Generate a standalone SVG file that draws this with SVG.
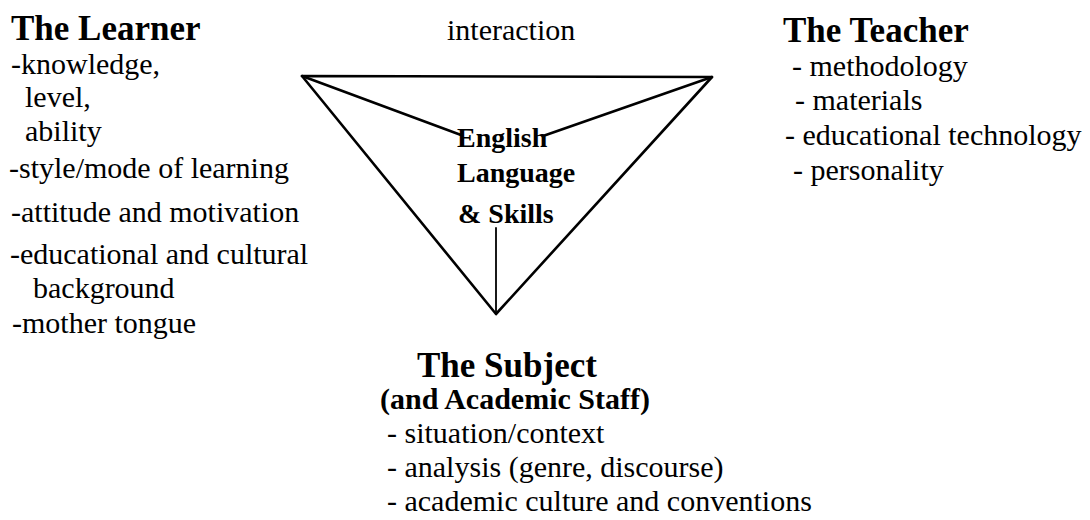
<svg xmlns="http://www.w3.org/2000/svg" width="1090" height="520" viewBox="0 0 1090 520">
<style>
text{font-family:"Liberation Serif","Times New Roman",serif;fill:#000}
.h{font-size:35px;font-weight:bold}
.b{font-size:30px}
.c{font-size:28px;font-weight:bold}
.s{font-size:30px;font-weight:bold}
.ln{stroke:#000;stroke-width:2.6;fill:none;stroke-linecap:round;stroke-linejoin:round}
</style>
<rect width="1090" height="520" fill="#fff"/>
<g id="connectors">
<polygon class="ln" points="302,76 712,77 496,314"/>
<line class="ln" x1="302" y1="76" x2="461" y2="135"/>
<line class="ln" x1="712" y1="77" x2="543" y2="136"/>
<line class="ln" x1="496" y1="228" x2="496" y2="314" style="stroke-width:1.8"/>
</g>
<g id="learner">
<text class="h" x="11" y="40">The Learner</text>
<text class="b" x="11" y="74">-knowledge,</text>
<text class="b" x="25" y="107">level,</text>
<text class="b" x="25" y="141">ability</text>
<text class="b" x="9" y="178">-style/mode of learning</text>
<text class="b" x="11" y="222">-attitude and motivation</text>
<text class="b" x="10" y="264">-educational and cultural</text>
<text class="b" x="33" y="298">background</text>
<text class="b" x="12" y="333">-mother tongue</text>
</g>
<g id="interaction">
<text class="b" x="447" y="40">interaction</text>
</g>
<g id="teacher">
<text class="h" x="783" y="42">The Teacher</text>
<text class="b" x="792" y="76">- methodology</text>
<text class="b" x="795" y="110">- materials</text>
<text class="b" x="785" y="145">- educational technology</text>
<text class="b" x="793" y="180">- personality</text>
</g>
<g id="center">
<text class="c" x="457" y="147">English</text>
<text class="c" x="457" y="182">Language</text>
<text class="c" x="458" y="223">&amp; Skills</text>
</g>
<g id="subject">
<text class="h" x="417" y="377">The Subject</text>
<text class="s" x="380" y="409">(and Academic Staff)</text>
<text class="b" x="387" y="443">- situation/context</text>
<text class="b" x="387" y="477">- analysis (genre, discourse)</text>
<text class="b" x="387" y="511">- academic culture and conventions</text>
</g>
</svg>
